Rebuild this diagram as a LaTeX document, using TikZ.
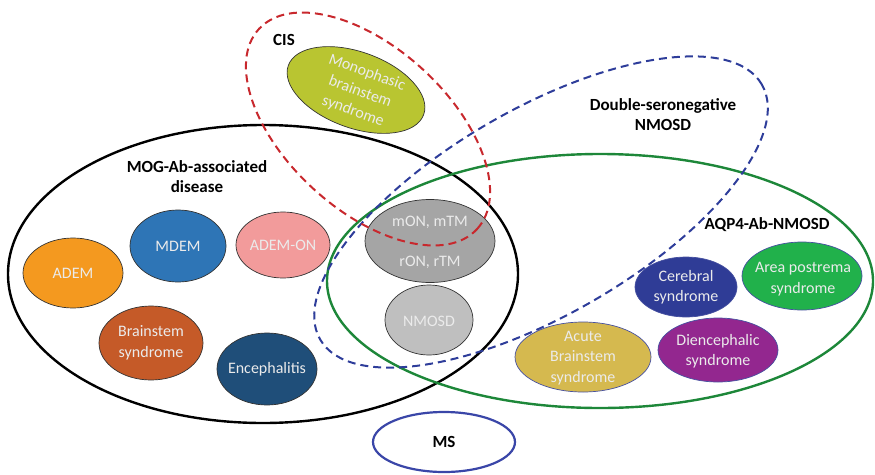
\documentclass[tikz,border=0pt]{standalone}
\usepackage{fontspec}
\setmainfont{Carlito}
\usetikzlibrary{shapes.geometric}
\definecolor{cisred}{RGB}{200,40,45}
\definecolor{dnblue}{RGB}{46,61,154}
\definecolor{aqpgreen}{RGB}{29,135,57}
\definecolor{msblue}{RGB}{58,70,168}
\definecolor{cademorange}{RGB}{244,153,31}
\definecolor{cmdem}{RGB}{46,117,182}
\definecolor{cademon}{RGB}{242,155,155}
\definecolor{cbrain}{RGB}{197,90,40}
\definecolor{cenceph}{RGB}{31,78,121}
\definecolor{cmon}{RGB}{165,165,165}
\definecolor{cnmosd}{RGB}{191,191,191}
\definecolor{cmono}{RGB}{185,197,49}
\definecolor{ccereb}{RGB}{47,60,150}
\definecolor{carea}{RGB}{33,177,75}
\definecolor{cacute}{RGB}{213,185,79}
\definecolor{cdien}{RGB}{147,39,143}
\definecolor{rimblue}{RGB}{70,80,160}
\begin{document}
\begin{tikzpicture}[x=1pt,y=1pt,
  outerline/.style={ellipse, draw, inner sep=0pt, line width=2.4pt},
  dashline/.style={ellipse, draw, inner sep=0pt, line width=2pt, dash pattern=on 8pt off 5pt},
  blob/.style={ellipse, draw=black!80, line width=0.7pt, inner sep=0pt},
  rblob/.style={ellipse, draw=rimblue, line width=0.7pt, inner sep=0pt},
  intext/.style={text=white!92!black, font=\fontsize{16}{20.5}\selectfont, align=center, inner sep=0pt},
  titletext/.style={text=black, font=\bfseries\fontsize{17}{20}\selectfont, align=center, inner sep=0pt}]
\useasboundingbox (0,0) rectangle (875,-474);

% outer sets
\node[outerline, draw=black, minimum width=510pt, minimum height=298pt] (mog) at (263,-274) {};
\node[outerline, draw=aqpgreen, minimum width=546pt, minimum height=254pt] (aqp) at (600,-281) {};
\node[dashline, draw=dnblue, minimum width=510pt, minimum height=206pt, rotate=30] (dn) at (541,-212) {};
\node[outerline, draw=msblue, line width=2.2pt, minimum width=142pt, minimum height=60pt] (ms) at (444,-442) {};

% inner blobs
\node[blob, fill=cademorange, minimum width=100pt, minimum height=70pt] (adem) at (73,-273) {};
\node[blob, fill=cmdem, minimum width=96pt, minimum height=72pt] (mdem) at (178,-246) {};
\node[blob, fill=cademon, minimum width=94pt, minimum height=66pt] (ademon) at (283,-245) {};
\node[blob, fill=cbrain, minimum width=104pt, minimum height=74pt] (brain) at (151,-343) {};
\node[blob, fill=cenceph, minimum width=100pt, minimum height=72pt] (enceph) at (267,-369) {};
\node[blob, fill=cmon, minimum width=130pt, minimum height=83pt] (mon) at (430,-241) {};
\node[blob, fill=cnmosd, minimum width=88pt, minimum height=70pt] (nmosd) at (429,-320) {};
\node[blob, fill=cmono, minimum width=144pt, minimum height=76pt, rotate=-20] (mono) at (356,-90) {};
\node[rblob, fill=ccereb, minimum width=102pt, minimum height=60pt] (cereb) at (686,-287) {};
\node[rblob, fill=carea, minimum width=120pt, minimum height=68pt] (area) at (802,-276) {};
\node[rblob, fill=cacute, minimum width=136pt, minimum height=70pt] (acute) at (583,-357) {};
\node[rblob, fill=cdien, minimum width=120pt, minimum height=64pt] (dien) at (718,-350) {};

% CIS dashed on top
\node[dashline, draw=cisred, minimum width=296pt, minimum height=162pt, rotate=-42.5] (cis) at (368,-129) {};

% texts in blobs
\node[intext] (tadem) at (adem) {ADEM};
\node[intext] (tmdem) at (mdem) {MDEM};
\node[intext] (tademon) at (ademon) {ADEM-ON};
\node[intext] (tbrain) at (brain) {Brainstem\\syndrome};
\node[intext] (tenceph) at (enceph) {Encephalitis};
\node[intext] (tmon) at (430,-222) {mON, mTM};
\node[intext] (tron) at (430,-262) {rON, rTM};
\node[intext] (tnmosd) at (429,-321) {NMOSD};
\node[intext, rotate=-20] (tmono) at (360,-92) {Monophasic\\brainstem\\syndrome};
\node[intext] (tcereb) at (686,-287) {Cerebral\\syndrome};
\node[intext] (tarea) at (803,-279) {Area postrema\\syndrome};
\node[intext] (tacute) at (583,-358) {Acute\\Brainstem\\syndrome};
\node[intext] (tdien) at (718,-351) {Diencephalic\\syndrome};

% titles
\node[titletext] (lcis) at (284,-40) {CIS};
\node[titletext] (lmog) at (197,-177) {MOG-Ab-associated\\disease};
\node[titletext] (ldn) at (663,-115) {Double-seronegative\\NMOSD};
\node[titletext] (laqp) at (767,-225) {AQP4-Ab-NMOSD};
\node[titletext] (lms) at (ms) {MS};
\end{tikzpicture}
\end{document}
